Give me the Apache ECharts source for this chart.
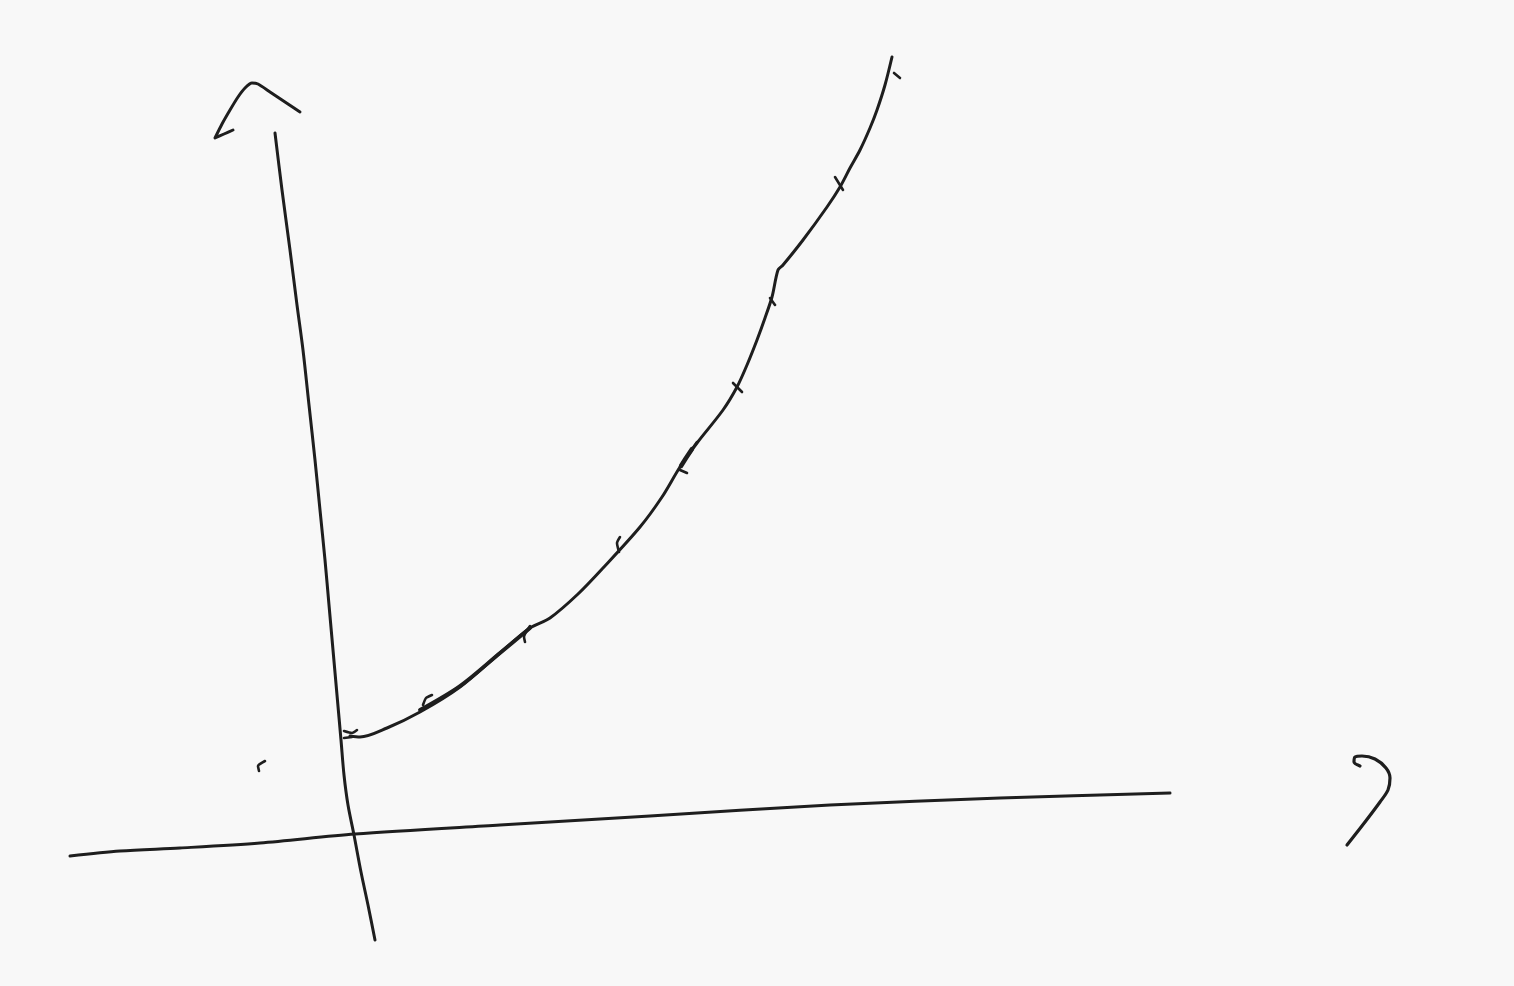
<!DOCTYPE html>
<html>
<head>
<meta charset="utf-8">
<script src="https://cdn.jsdelivr.net/npm/echarts@6/dist/echarts.min.js"></script>
<style>
html,body{margin:0;padding:0;background:#f8f8f8;}
#chart{width:1514px;height:986px;}
</style>
</head>
<body>
<div id="chart"></div>
<script>
// Sketch strokes, in the chart's own data space (x: 0..1514, y: 0..986 downward)
var yAxisStroke = [[275,133],[282,190],[290,250],[297,305],[303,350],[309,405],[315,460],[320,510],[325,560],[329,605],[333,650],[337,695],[341,740],[344,775],[348,805],[354,835],[361,872],[368,905],[375,940]];
var arrowHead = [[233,130],[224,134],[215,138],[222,124],[230,110],[238,97],[245,88],[252,83],[258,84],[270,92],[285,102],[300,112]];
var xAxisStroke = [[70,856],[120,851],[180,848],[260,843],[355,834],[500,825],[650,816],[830,805],[1000,798],[1170,793]];
var questionMark = [[1360,766],[1354,762],[1355,757],[1362,756],[1375,759],[1386,768],[1390,778],[1388,790],[1380,802],[1365,822],[1347,845]];
var growthCurve = [[350,736],[360,737],[387,728],[420,712],[460,687],[500,653],[530,628],[550,618],[578,594],[603,568],[640,527],[662,497],[680,467],[697,443],[723,410],[737,387],[747,365],[757,340],[765,318],[772,297],[778,270],[783,265],[803,240],[827,207],[840,187],[850,168],[860,150],[870,128],[877,110],[885,85],[892,57]];
var heavyPart = [[420,710],[460,686],[500,653],[530,628]];
var tickMarks = [
  [[344,731],[352,733],[357,730]],
  [[344,738],[352,737]],
  [[423,705],[426,698],[432,695]],
  [[530,626],[524,637],[525,642]],
  [[620,537],[617,543],[619,552]],
  [[680,470],[687,473]],
  [[690,452],[697,442]],
  [[733,383],[742,392]],
  [[770,298],[775,305]],
  [[835,177],[843,190]],
  [[894,73],[900,78]],
  [[265,761],[258,766],[259,771]]
];
var blobMark = [[681,466],[686,458],[692,449]];

var inkColor = '#1e1e1e';
function stroke(data, width, smooth) {
  return {
    type: 'line',
    data: data,
    smooth: smooth,
    showSymbol: false,
    silent: true,
    animation: false,
    lineStyle: { color: inkColor, width: width, cap: 'round', join: 'round' }
  };
}

var series = [
  stroke(yAxisStroke, 3, 0.3),
  stroke(arrowHead, 3, 0.2),
  stroke(xAxisStroke, 3, 0.3),
  stroke(questionMark, 3.2, 0.3),
  stroke(growthCurve, 3, 0.3),
  stroke(heavyPart, 3.8, 0.3),
  stroke(blobMark, 4.5, 0)
];
tickMarks.forEach(function (t) { series.push(stroke(t, 2.6, 0.2)); });

var chart = echarts.init(document.getElementById('chart'), null, { renderer: 'canvas' });
chart.setOption({
  backgroundColor: '#f8f8f8',
  animation: false,
  grid: { left: 0, right: 0, top: 0, bottom: 0 },
  xAxis: { type: 'value', min: 0, max: 1514, show: false },
  yAxis: { type: 'value', min: 0, max: 986, inverse: true, show: false },
  series: series
});
</script>
</body>
</html>
